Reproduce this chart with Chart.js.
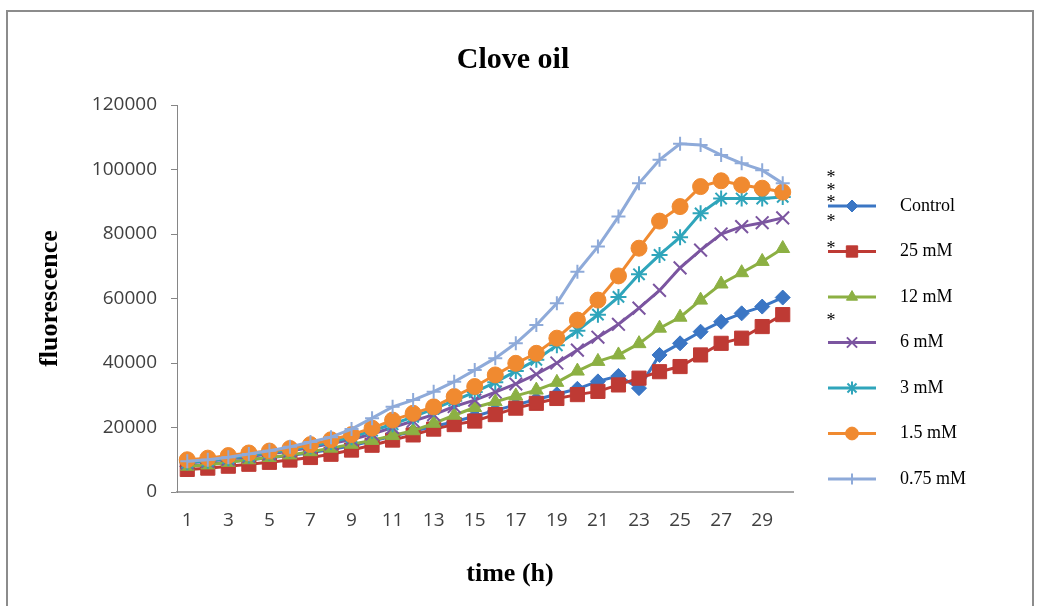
<!DOCTYPE html>
<html>
<head>
<meta charset="utf-8">
<script src="https://cdn.jsdelivr.net/npm/chart.js@4.4.1/dist/chart.umd.min.js"></script>
<style>
  html, body { margin: 0; padding: 0; background: #fff; }
  #wrap { width: 1038px; height: 606px; position: relative; }
</style>
</head>
<body>
<div id="wrap"><canvas id="cloveChart"></canvas></div>
<script>
// time points (h)
const hours = ['1','2','3','4','5','6','7','8','9','10','11','12','13','14','15',
               '16','17','18','19','20','21','22','23','24','25','26','27','28','29','30'];

// fluorescence per treatment
const control = [8000, 8500, 9300, 10000, 10600, 11300, 12200, 13200, 14300, 15800, 17300, 18800, 20300, 21800, 23500,
                 25300, 27000, 28700, 30300, 32000, 34300, 36000, 32200, 42500, 46100, 49700, 52800, 55400, 57500, 60300];
const mM25 = [7000, 7400, 8000, 8600, 9200, 9900, 10700, 11700, 13000, 14500, 16100, 17700, 19500, 20900, 22000,
              24000, 26000, 27500, 29000, 30200, 31200, 33200, 35300, 37300, 38900, 42500, 46100, 47700, 51300, 55000];
const mM12 = [8000, 8400, 9200, 10000, 10700, 11500, 12500, 13600, 14800, 16000, 17500, 19000, 21300, 23800, 26200,
              28000, 29800, 31600, 34000, 37500, 40500, 42500, 46000, 50800, 54200, 59500, 64500, 68000, 71500, 75500];
const mM6 = [9000, 9500, 10200, 11000, 11800, 12700, 13800, 15000, 16300, 18000, 20000, 22000, 24000, 26500, 28500,
             31000, 33500, 36500, 40000, 44000, 48000, 52000, 57000, 62500, 69500, 75000, 80000, 82300, 83500, 85000];
const mM3 = [9200, 9700, 10500, 11300, 12200, 13100, 14200, 15500, 17000, 19000, 21000, 23300, 25800, 28300, 31000,
             34000, 37500, 41000, 45500, 50000, 55000, 60500, 67500, 73500, 79000, 86400, 91000, 91000, 91000, 91500];
const mM1_5 = [10000, 10500, 11300, 12100, 12700, 13500, 14700, 16200, 17800, 19800, 22300, 24400, 26400, 29600, 32700,
               36300, 39900, 43000, 47700, 53300, 59500, 67000, 75600, 84000, 88500, 94700, 96500, 95200, 94200, 93000];
const mM0_75 = [9500, 10000, 10800, 11800, 12800, 14000, 15500, 17000, 19500, 22900, 26400, 28500, 31100, 34200, 37800,
                41500, 46100, 51800, 58500, 68300, 76100, 85400, 95700, 103000, 108000, 107600, 104500, 101900, 99800, 95700];

const seriesNames = ['Control', '25 mM', '12 mM', '6 mM', '3 mM', '1.5 mM', '0.75 mM'];
// levels where the significance asterisks sit at the end of the lines
const starLevels = [98900, 94900, 91200, 85300, 76900, 54600];

const yMax = 120000;
const yStep = 20000;

function series(label, data, color, style, radius, fill, order) {
  return {
    label: label,
    data: data,
    borderColor: color,
    borderWidth: 3,
    pointStyle: style,
    pointRadius: radius,
    pointBackgroundColor: color,
    pointBorderColor: color,
    pointBorderWidth: fill ? 1 : 2,
    tension: 0,
    order: order
  };
}

const serif = '"Liberation Serif", "Times New Roman", serif';
const tickFont = { family: '"Open Sans"', size: 19 };

// title, x-title, legend, asterisks and frame
const decorations = {
  id: 'decorations',
  beforeDraw(chart) {
    const ctx = chart.ctx;
    ctx.save();
    ctx.fillStyle = '#fff';
    ctx.fillRect(0, 0, chart.width, chart.height);
    ctx.strokeStyle = '#8c8c8c';
    ctx.lineWidth = 2;
    ctx.strokeRect(7, 11, 1026, 700);
    ctx.restore();
  },
  afterDraw(chart) {
    const ctx = chart.ctx;
    const area = chart.chartArea;
    const y = chart.scales.y;
    ctx.save();
    ctx.fillStyle = '#000';
    ctx.textAlign = 'center';
    ctx.textBaseline = 'middle';
    ctx.font = 'bold 30px ' + serif;
    ctx.fillText('Clove oil', 513, 60);
    ctx.font = 'bold 26px ' + serif;
    ctx.fillText('time (h)', area.left + 333, 574);

    // asterisks
    ctx.font = '18px ' + serif;
    starLevels.forEach(v => {
      ctx.fillText('*', area.right + 38, y.getPixelForValue(v) + 5);
    });

    // legend
    ctx.textAlign = 'left';
    ctx.font = '18px ' + serif;
    chart.data.datasets.forEach((ds, k) => {
      const ly = area.top + 101 + k * 45.5;
      const x0 = area.right + 35, x1 = area.right + 83;
      ctx.strokeStyle = ds.borderColor;
      ctx.lineWidth = 3;
      ctx.beginPath();
      ctx.moveTo(x0, ly);
      ctx.lineTo(x1, ly);
      ctx.stroke();
      ctx.fillStyle = ds.pointBackgroundColor;
      ctx.strokeStyle = ds.pointBorderColor;
      ctx.lineWidth = ds.pointBorderWidth;
      Chart.helpers.drawPoint(ctx, {
        pointStyle: ds.pointStyle, radius: ds.pointRadius * 0.8,
        rotation: 0, borderWidth: ds.pointBorderWidth
      }, (x0 + x1) / 2, ly);
      ctx.fillStyle = '#000';
      ctx.fillText(ds.label, area.right + 107, ly);
    });
    ctx.restore();
  }
};

const ctx = document.getElementById('cloveChart').getContext('2d');
const cloveChart = new Chart(ctx, {
  type: 'line',
  data: {
    labels: hours,
    datasets: [
      series(seriesNames[0], control, '#3b76c4', 'rectRot', 7.5, true, 6),
      series(seriesNames[1], mM25, '#be3a34', 'rect', 10, true, 5),
      series(seriesNames[2], mM12, '#8cb043', 'triangle', 8, true, 4),
      series(seriesNames[3], mM6, '#7b55a0', 'crossRot', 9, false, 3),
      series(seriesNames[4], mM3, '#2fa5bb', 'star', 8, false, 2),
      series(seriesNames[5], mM1_5, '#f08a30', 'circle', 8, true, 1),
      series(seriesNames[6], mM0_75, '#8eaad9', 'cross', 7, false, 0)
    ]
  },
  plugins: [decorations],
  options: {
    responsive: true,
    maintainAspectRatio: false,
    animation: false,
    layout: { padding: { left: 0, right: 245, top: 105, bottom: 0 } },
    plugins: {
      legend: { display: false },
      title: { display: false },
      tooltip: { enabled: false }
    },
    scales: {
      x: {
        offset: true,
        grid: { display: true, drawOnChartArea: false, drawTicks: false, offset: true },
        border: { color: '#a6a6a6', width: 2 },
        ticks: {
          autoSkip: false,
          maxRotation: 0,
          padding: 17,
          color: '#404040',
          font: tickFont,
          callback: function (val, i) { return i % 2 === 0 ? this.getLabelForValue(val) : ''; }
        },
        afterFit(scale) { scale.height = 114; }
      },
      y: {
        min: 0,
        max: yMax,
        grid: { display: true, drawOnChartArea: false, drawTicks: true, tickLength: 6, color: '#868686' },
        border: { color: '#868686', width: 1 },
        ticks: {
          stepSize: yStep,
          padding: 14,
          color: '#404040',
          font: tickFont,
          callback: v => String(v)
        },
        title: {
          display: true,
          text: 'fluorescence',
          color: '#000',
          font: { family: serif, size: 26, weight: 'bold' },
          padding: { top: 34.4, bottom: 0 }
        },
        afterFit(scale) { scale.width = 177; }
      }
    }
  }
});
</script>
</body>
</html>
